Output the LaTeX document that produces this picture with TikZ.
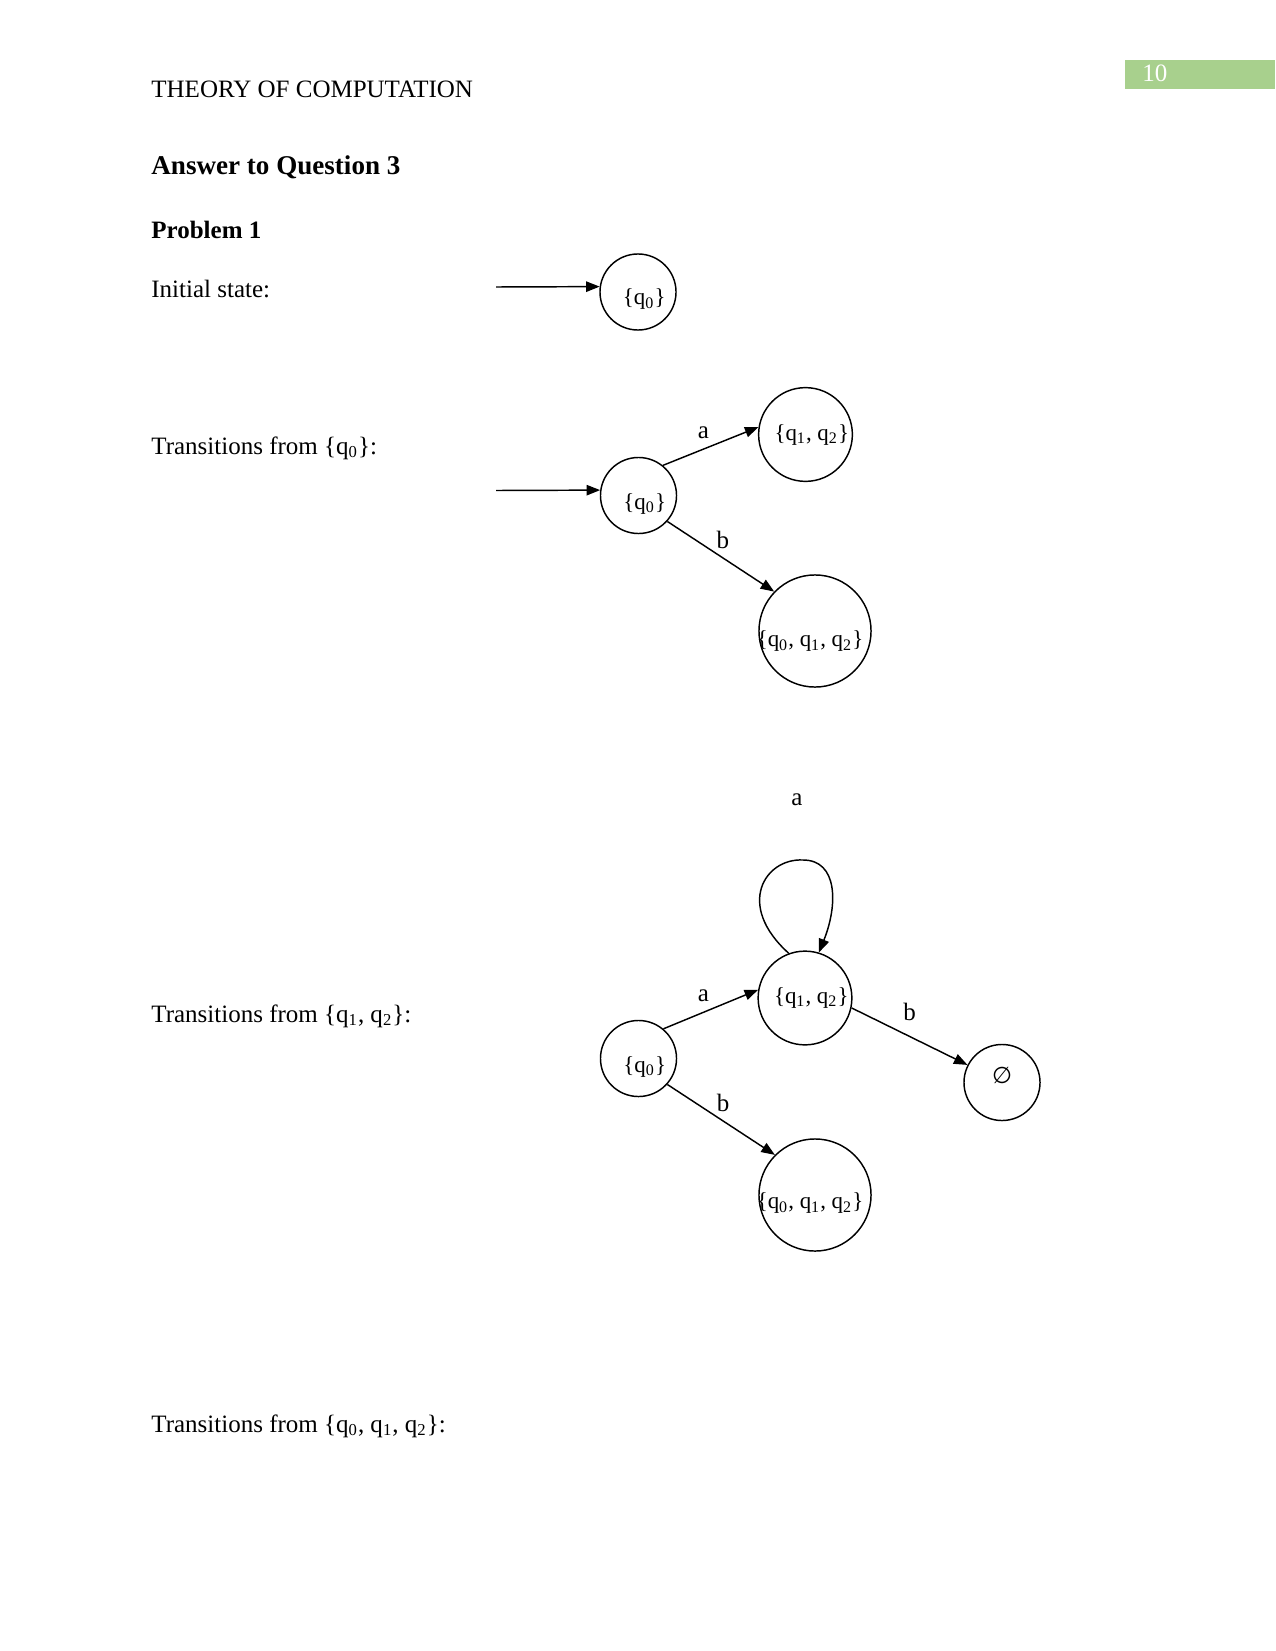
\documentclass[tikz,border=0pt]{standalone}
\usepackage{fontspec}
\setmainfont{Liberation Serif}
\newfontfamily\dejavu{DejaVu Sans}
\usetikzlibrary{arrows.meta}
\definecolor{pagegreen}{HTML}{A8D08D}
\tikzset{
  txt/.style={anchor=base west, inner sep=0pt, font=\fontsize{12}{14}\selectfont},
  state/.style={circle, draw, line width=0.7pt, inner sep=0pt, minimum size=#1},
  lbl/.style={font=\fontsize{11}{13}\selectfont},
  edge/.style={line width=0.7pt, -{Triangle[length=6.5pt,width=5pt]}},
  elbl/.style={font=\fontsize{12}{14}\selectfont},
}
\newcommand{\qs}[1]{q\textsubscript{#1}}
\begin{document}
\begin{tikzpicture}[x=0.48pt,y=-0.48pt]
\useasboundingbox (0,0) rectangle (1275,1651);

% header
\fill[pagegreen] (1125,60) rectangle (1275,89);
\node[txt, text=white] (pgno) at (1142,82) {10};
\node[txt] (title) at (151,98) {THEORY OF COMPUTATION};
\node[txt, font=\fontsize{13}{15}\selectfont\bfseries] (ans) at (151,175) {Answer to Question 3};
\node[txt, font=\fontsize{12}{14}\selectfont\bfseries] (prob) at (151,238) {Problem 1};

% initial state
\node[txt] (lbinit) at (151,297) {Initial state:};
\node[state=36.5pt, label={[lbl,xshift=3pt,yshift=-3.5pt]center:{\{\qs{0}\}}}] (s0) at (638,292) {};
\coordinate (s0in) at (496,287);
\draw[edge] (s0in) -- (s0.172);

% from {q0}
\node[txt] (lbq0) at (151,454) {Transitions from \{\qs{0}\}:};
\node[state=36.5pt, label={[lbl,xshift=3pt,yshift=-4pt]center:{\{\qs{0}\}}}] (t0) at (638.5,495.5) {};
\node[state=45pt, label={[lbl,xshift=3pt]center:{\{\qs{1}, \qs{2}\}}}] (t1) at (805.5,434.5) {};
\node[state=53.8pt, label={[lbl,xshift=-2.4pt,yshift=-5pt]center:{\{\qs{0}, \qs{1}, \qs{2}\}}}] (t2) at (815,631) {};
\coordinate (t0in) at (496,490.5);
\draw[edge] (t0in) -- (t0.172);
\draw[edge] (t0.51) -- (t1.171) node[elbl, midway, above, xshift=-3.5pt] {a};
\draw[edge] (t0.-42) -- (t2.136) node[elbl, midway, above, xshift=1pt] {b};

% from {q1, q2}
\node[txt] (lbq12) at (151,1022) {Transitions from \{\qs{1}, \qs{2}\}:};
\node[state=36.5pt, label={[lbl,xshift=3pt,yshift=-4pt]center:{\{\qs{0}\}}}] (u0) at (638.5,1058.5) {};
\node[state=45pt, label={[lbl,xshift=3pt]center:{\{\qs{1}, \qs{2}\}}}] (u1) at (805,998) {};
\node[state=53.8pt, label={[lbl,xshift=-2.4pt,yshift=-4pt]center:{\{\qs{0}, \qs{1}, \qs{2}\}}}] (u2) at (815,1195) {};
\node[state=36.5pt, label={[lbl,yshift=3.5pt]center:{\dejavu ∅}}] (ue) at (1002,1082.5) {};
\draw[edge] (u0.50) -- (u1.170) node[elbl, midway, above, xshift=-3.5pt] {a};
\draw[edge] (u0.-42) -- (u2.135) node[elbl, midway, above, xshift=1pt] {b};
\draw[edge] (u1.-12) -- (ue.153) node[elbl, midway, above=4pt] {b};
\draw[edge] (u1.110) .. controls (735,905) and (765,858) .. (803,860)
  .. controls (838,860) and (838,905) .. (u1.73);
\node[elbl, anchor=base, inner sep=0pt] (loopa) at (797,805) {a};

% from {q0, q1, q2}
\node[txt] (lbq012) at (151,1432) {Transitions from \{\qs{0}, \qs{1}, \qs{2}\}:};
\end{tikzpicture}
\end{document}
